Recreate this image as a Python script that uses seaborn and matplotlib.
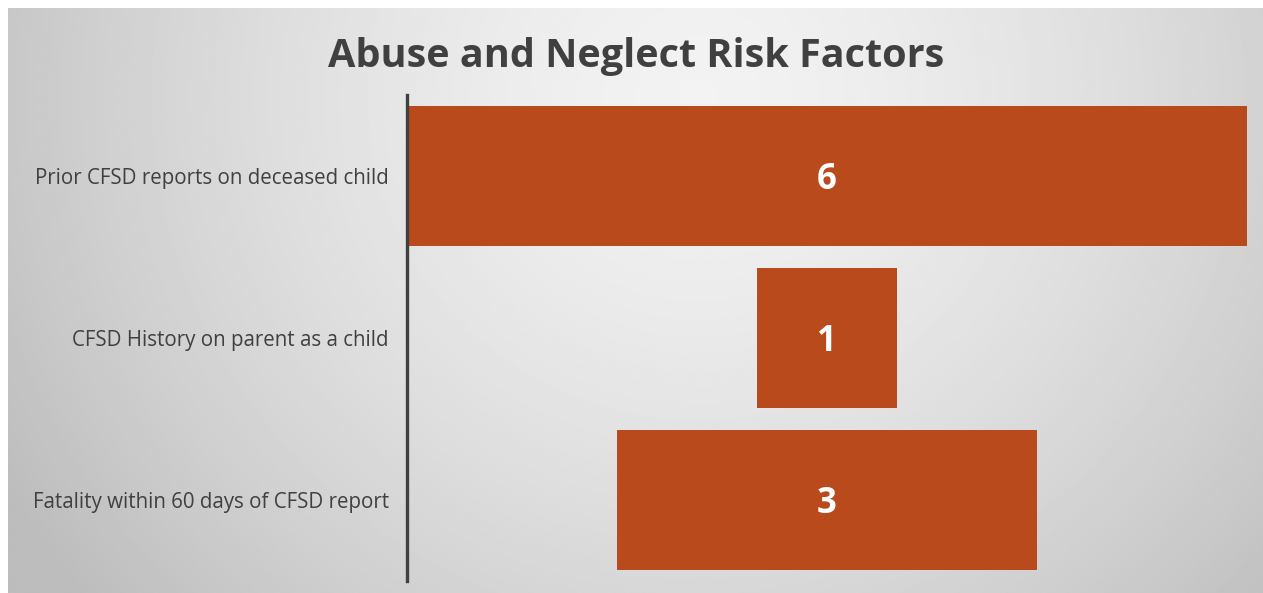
import numpy as np
import pandas as pd
import matplotlib
matplotlib.use("Agg")
import matplotlib.pyplot as plt
import seaborn as sns

# Risk factor counts
categories = [
    "Prior CFSD reports on deceased child",
    "CFSD History on parent as a child",
    "Fatality within 60 days of CFSD report",
]
counts = [6, 1, 3]
title = "Abuse and Neglect Risk Factors"

bar_color = "#B94A1B"
text_color = "#404040"

sns.set_theme(style="white")
plt.rcParams["font.family"] = ["Open Sans", "DejaVu Sans"]

df = pd.DataFrame({"factor": categories, "count": counts})

fig = plt.figure(figsize=(12.63, 5.93), dpi=100)
fig.patch.set_facecolor("white")

# Slide-style radial grey background panel
bg = fig.add_axes([8 / 1263, 0, 1 - 8 / 1263, (593 - 8) / 593], zorder=0)
yy, xx = np.mgrid[0:1:300j, 0:1:600j]
r = np.sqrt(((xx - 0.55) / 0.62) ** 2 + ((yy - 0.15) / 1.3) ** 2)
shade = np.clip(0.95 - 0.2 * r ** 1.5, 0.74, 0.95)
bg.imshow(shade, cmap="gray", vmin=0, vmax=1, aspect="auto",
          extent=[0, 1, 1, 0], interpolation="bilinear")
bg.set_axis_off()

ax = fig.add_axes([407 / 1263, 12 / 593, 840 / 1263, 486 / 593], zorder=1)
ax.patch.set_alpha(0)

sns.barplot(data=df, y="factor", x="count", orient="h", color=bar_color,
            width=0.864, saturation=1, ax=ax, edgecolor="none")

# Center each bar to form a funnel
vmax = max(counts)
for patch, v in zip(ax.patches, counts):
    patch.set_x((vmax - v) / 2)
    ax.text((vmax - v) / 2 + v / 2, patch.get_y() + patch.get_height() / 2 + 0.025,
            str(v), ha="center", va="center", color="white",
            fontsize=25, fontweight="bold")

ax.set_xlim(0, vmax)
ax.set_ylim(2.5, -0.5)
ax.set_xlabel("")
ax.set_ylabel("")
ax.set_xticks([])
ax.tick_params(axis="y", length=0, pad=13, labelsize=14.8, labelcolor=text_color)
for label in ax.get_yticklabels():
    label.set_y(label.get_position()[1])
for side in ["top", "right", "bottom"]:
    ax.spines[side].set_visible(False)
ax.spines["left"].set_color(text_color)
ax.spines["left"].set_linewidth(2.4)

fig.text(0.504, 1 - 57 / 593, title, ha="center", va="center",
         fontsize=28.5, fontweight="bold", color=text_color)

fig.savefig("out.png", dpi=100, facecolor=fig.get_facecolor())
